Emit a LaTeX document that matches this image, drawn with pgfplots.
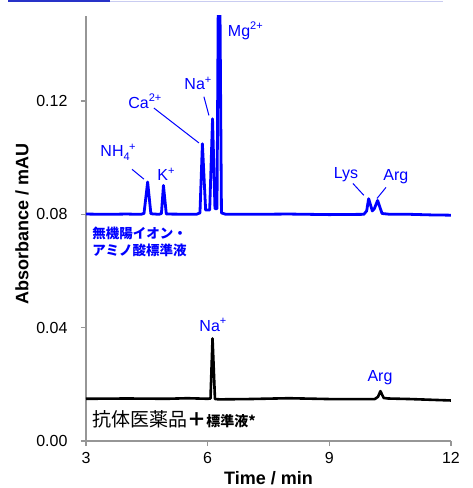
\documentclass[border=0pt]{standalone}
\usepackage{fontspec}
\setmainfont{Liberation Sans}
\newfontfamily\jp{Noto Sans CJK JP}
\usepackage{pgfplots}
\pgfplotsset{compat=1.18}
\definecolor{trblue}{RGB}{0,0,255}
\definecolor{axgray}{RGB}{150,150,150}
\definecolor{barblue}{RGB}{40,50,200}
\newcommand{\sups}[1]{\raisebox{0.42em}{\fontsize{11}{11}\selectfont #1}}
\newcommand{\subs}[1]{\raisebox{-0.25em}{\fontsize{11}{11}\selectfont #1}}
\begin{document}
\begin{tikzpicture}[x=1pt,y=1pt]
\useasboundingbox (0,0) rectangle (472,488);
\fill[barblue] (8,485.5) rectangle (110,488);
\draw[barblue!25, line width=1.2pt] (110,486.5) -- (443,486.5);
\begin{axis}[
  at={(86pt,47pt)}, anchor=south west,
  scale only axis, width=365pt, height=425pt,
  xmin=3, xmax=12, ymin=0, ymax=0.15,
  axis lines=left,
  axis line style={draw=axgray, line width=1.5pt, -},
  tick style={draw=axgray, line width=1.2pt},
  tick align=outside, major tick length=5pt,
  xtick={3,6,9,12}, ytick={0,0.04,0.08,0.12},
  yticklabel style={/pgf/number format/fixed, /pgf/number format/precision=2, /pgf/number format/fixed zerofill},
  /pgf/number format/assume math mode=true,
  ticklabel style={font=\fontsize{16}{16}\selectfont},
  xticklabel style={yshift=-3pt},
  yticklabel style={xshift=-10pt},
  xlabel={\bfseries Time / min},
  ylabel={\bfseries Absorbance / mAU},
  label style={font=\fontsize{18}{18}\selectfont},
  xlabel style={at={(axis description cs:0.5,0)}, anchor=center, yshift=-37pt},
  ylabel style={at={(axis description cs:-0.175,0.51)}, anchor=center},
  clip=true,
]
\addplot[trblue, line width=2.8pt, line join=round] coordinates {
(3.0,0.0801) (3.5,0.0800) (4.0,0.0801) (4.35,0.0800) (4.43,0.0803) (4.52,0.0914) (4.60,0.0802)
(4.80,0.0800) (4.86,0.0803) (4.91,0.0902) (4.98,0.0801) (5.72,0.0800) (5.81,0.0805) (5.87,0.1049)
(5.95,0.0815) (6.05,0.0815) (6.12,0.1137) (6.18,0.0820) (6.23,0.0820) (6.28,0.2000) (6.34,0.0805)
(6.45,0.0800) (7.0,0.0800) (8.0,0.0801) (9.0,0.0799) (9.85,0.0800) (9.92,0.0812) (9.97,0.0855)
(10.06,0.0812) (10.11,0.0820) (10.19,0.0849) (10.30,0.0803) (10.5,0.0800) (11.0,0.0800)
(11.5,0.0798) (12.0,0.0797)
};
\addplot[black, line width=2.6pt, line join=round] coordinates {
(3.0,0.0149) (4.0,0.0150) (5.0,0.0149) (5.5,0.0151) (6.0,0.0149) (6.07,0.0150) (6.12,0.0362)
(6.18,0.0148) (6.3,0.0147) (7.0,0.0148) (8.0,0.0151) (9.0,0.0148) (10.12,0.0148) (10.2,0.0156)
(10.26,0.0176) (10.34,0.0152) (10.45,0.0150) (11.0,0.0148) (12.0,0.0143)
};
% labels
\begin{scope}[every node/.style={text=trblue, font=\fontsize{16}{16}\selectfont, inner sep=0pt}]
\node at (axis cs:6.93,0.1448) {Mg\sups{2+}};
\node at (axis cs:5.76,0.1262) {Na\sups{+}};
\node at (axis cs:4.45,0.1198) {Ca\sups{2+}};
\node at (axis cs:3.79,0.1019) {NH\subs{4}\hspace{-0.5pt}\sups{+}};
\node at (axis cs:4.97,0.0941) {K\sups{+}};
\node at (axis cs:9.41,0.0941) {Lys};
\node at (axis cs:10.64,0.0934) {Arg};
\node at (axis cs:6.13,0.0409) {Na\sups{+}};
\node at (axis cs:10.25,0.0222) {Arg};
\end{scope}
\begin{scope}[trblue, line width=1pt]
\draw (axis cs:4.675,0.1175) -- (axis cs:5.785,0.1052);
\draw (axis cs:5.908,0.1215) -- (axis cs:6.031,0.1149);
\draw (axis cs:4.134,0.0959) -- (axis cs:4.430,0.0924);
\draw (axis cs:9.581,0.0909) -- (axis cs:9.852,0.0867);
\draw (axis cs:10.397,0.0895) -- (axis cs:10.175,0.0856);
\end{scope}
\node[anchor=west, inner sep=0pt, text=trblue, font=\jp\bfseries\fontsize{13.5}{13.5}\selectfont] at (axis cs:3.15,0.0733) {無機陽イオン・};
\node[anchor=west, inner sep=0pt, text=trblue, font=\jp\bfseries\fontsize{13.5}{13.5}\selectfont] at (axis cs:3.15,0.0673) {アミノ酸標準液};
\node[anchor=west, inner sep=0pt, font=\jp\fontsize{19}{19}\selectfont] at (axis cs:3.15,0.0078) {抗体医薬品{\bfseries ＋}{\bfseries\fontsize{14}{14}\selectfont 標準液*}};
\end{axis}
\end{tikzpicture}
\end{document}
